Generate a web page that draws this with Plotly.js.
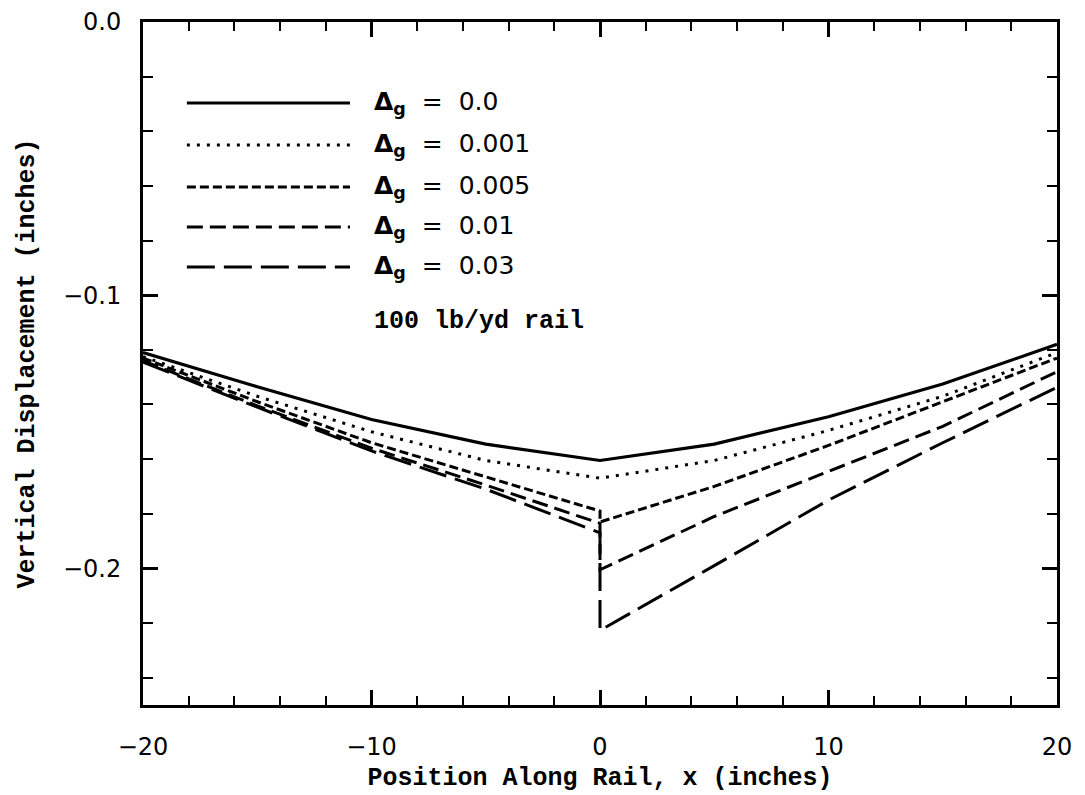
<!DOCTYPE html>
<html>
<head>
<meta charset="utf-8">
<script src="https://cdn.plot.ly/plotly-3.0.1.min.js"></script>
<style>html,body{margin:0;padding:0;background:#fff;}#chart{width:1085px;height:795px;}</style>
</head>
<body>
<div id="chart"></div>
<script>
// Position along rail (inches); x = 0 appears twice (left / right of the joint)
const positions = [-20, -15, -10, -5, 0, 0, 5, 10, 15, 20];

// Vertical displacement (inches) for each gap value Δg
const disp_0    = [-0.121, -0.1335, -0.1455, -0.1545, -0.1605, -0.1605, -0.1545, -0.1445, -0.1325, -0.118];
const disp_001  = [-0.1225, -0.137, -0.150, -0.1605, -0.167, -0.167, -0.1605, -0.1495, -0.137, -0.121];
const disp_005  = [-0.123, -0.139, -0.154, -0.1665, -0.179, -0.183, -0.170, -0.155, -0.139, -0.123];
const disp_01   = [-0.124, -0.1405, -0.156, -0.1695, -0.1835, -0.2005, -0.181, -0.1645, -0.148, -0.128];
const disp_03   = [-0.1245, -0.141, -0.157, -0.171, -0.187, -0.2227, -0.199, -0.175, -0.154, -0.1337];

const seriesLabels = ["0.0", "0.001", "0.005", "0.01", "0.03"];
const seriesData = [disp_0, disp_001, disp_005, disp_01, disp_03];
const noteText = "100 lb/yd rail";

const dashes = ["solid", "3px,7px", "9px,4px", "16px,7px", "28px,9px"];
const widths = [3.2, 3, 3, 3, 3];

const traces = seriesData.map((ys, i) => ({
  x: positions, y: ys, type: "scatter", mode: "lines",
  name: "Δg = " + seriesLabels[i],
  line: {color: "#000", width: widths[i], dash: dashes[i]},
  showlegend: false, hoverinfo: "x+y"
}));

// custom legend (long sample lines like the original)
const rowY = [0.8814, 0.8199, 0.7584, 0.6999, 0.6413];
const shapes = [];
const annotations = [];
const legFont = {family: "DejaVu Sans, sans-serif", size: 25, color: "#000"};
seriesLabels.forEach((lab, i) => {
  shapes.push({type: "line", xref: "paper", yref: "paper", x0: 0.048, x1: 0.2265, y0: rowY[i], y1: rowY[i],
    line: {color: "#000", width: widths[i], dash: dashes[i]}});
  annotations.push({xref: "paper", yref: "paper", x: 0.2505, y: rowY[i], xanchor: "left", yanchor: "middle",
    showarrow: false, text: "<b>Δ</b><sub><b>g</b></sub>\u00a0\u00a0=\u00a0\u00a0" + lab,
    font: legFont});
});
annotations.push({xref: "paper", yref: "paper", x: 0.2505, y: 0.5608, xanchor: "left", yanchor: "middle",
  showarrow: false, text: noteText,
  font: {family: "Liberation Mono, monospace", size: 25, color: "#000", weight: "bold"}});

const axisFont = {family: "DejaVu Sans, sans-serif", size: 24, color: "#000"};
const titleFont = {family: "Liberation Mono, monospace", size: 25, color: "#000", weight: "bold"};

const layout = {
  width: 1085, height: 795,
  margin: {l: 143, r: 28, t: 22, b: 90},
  paper_bgcolor: "#fff", plot_bgcolor: "#fff",
  xaxis: {
    range: [-20, 20], dtick: 10, tick0: 0, ticks: "inside", ticklen: 15, tickwidth: 2.5, tickcolor: "#000",
    showline: true, linewidth: 3, linecolor: "#000", mirror: "allticks", showgrid: false, zeroline: false,
    tickfont: axisFont, ticklabelstandoff: 18,
    minor: {dtick: 2, tick0: 0, ticks: "inside", ticklen: 9, tickwidth: 2, tickcolor: "#000", showgrid: false},
    title: {text: "Position Along Rail, x (inches)", font: titleFont, standoff: 8}
  },
  yaxis: {
    range: [-0.25, 0], dtick: 0.1, tick0: 0, tickformat: ".1f", ticks: "inside", ticklen: 15, tickwidth: 2.5, tickcolor: "#000",
    showline: true, linewidth: 3, linecolor: "#000", mirror: "allticks", showgrid: false, zeroline: false,
    tickfont: axisFont, ticklabelstandoff: 14,
    minor: {dtick: 0.02, tick0: 0, ticks: "inside", ticklen: 10, tickwidth: 2, tickcolor: "#000", showgrid: false},
    title: {text: "Vertical Displacement (inches)", font: titleFont, standoff: 22}
  },
  shapes: shapes,
  annotations: annotations,
  showlegend: false
};

Plotly.newPlot("chart", traces, layout, {displayModeBar: false, staticPlot: false});
</script>
</body>
</html>
